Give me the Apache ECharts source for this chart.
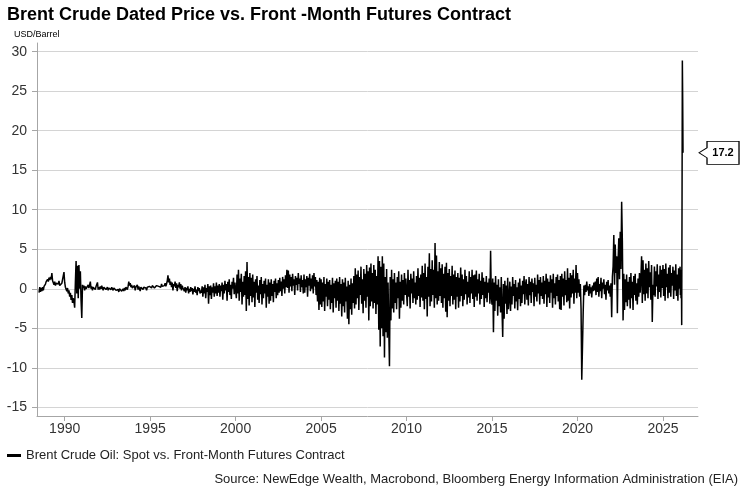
<!DOCTYPE html>
<html><head><meta charset="utf-8">
<script src="https://cdn.jsdelivr.net/npm/echarts@6/dist/echarts.min.js"></script>
<style>html,body{margin:0;padding:0;background:#fff}#c{width:747px;height:490px}</style>
</head><body><div id="c"></div>
<script>
const seriesName = 'Brent Crude Oil: Spot vs. Front-Month Futures Contract';
const titleText = 'Brent Crude Dated Price vs. Front -Month Futures Contract';
const unitText = 'USD/Barrel';
const sourceText = 'Source: NewEdge Wealth, Macrobond, Bloomberg Energy Information Administration (EIA)';

// Spot minus front-month futures, USD/barrel at half-month steps from mid-1988
const startYear = 1988.5, stepsPerYear = 24;
const spread1988_1994 = [
  -0.5, 0.2, -0.4, 0.1, -0.3, 0.2, -0.2, 0.3, 0.1, 0.6, 0.9, 0.7,
  1.2, 0.9, 1.4, 1.1, 1.5, 1.2, 2.0, 1.0, 0.8, 0.5, 0.9, 0.4, 0.7, 0.5, 0.8, 0.6, 1.0, 0.4, 0.6, 0.3, 0.7, 0.5, 0.9, 2.1,
  0.8, 0.2, 0.4, -0.3, 0.1, -0.6, -0.2, -1.0, -0.5, -1.4, -0.8, -1.8, -1.2, -1.6, -2.4, 0.8, 3.5, -0.6, 2.9, -1.2, 3.0, 0.0, 2.2, -1.5,
  -3.7, 0.5, 0.1, 0.4, -0.2, 0.3, 0.0, 0.2, -0.1, 0.5, 0.1, 0.3, 0.9, 0.0, 0.3, -0.2, 0.2, 0.0, 0.4, -0.1, 0.3, 0.1, 0.8, -0.1,
  0.2, -0.1, 0.3, 0.0, 0.4, 0.1, -0.2, 0.2, 0.0, 0.3, -0.1, 0.1, 0.2, -0.2, 0.1, 0.0, 0.3, -0.1, 0.2, 0.0, -0.2, 0.1, -0.1, 0.2,
  -0.2, 0.0, -0.3, -0.1, -0.4, 0.0, -0.2, 0.1, -0.3, -0.1, 0.0, -0.3, 0.1, -0.2, 0.2, 0.0, -0.1, 0.3, 0.9, 0.4, 0.7, 0.2, 0.5, 0.1,
  0.3, 0.0, 0.4, -0.2, 0.2, 0.1, 0.5, -0.1, 0.3, 0.0, -0.3, 0.2, 0.1, 0.4, -0.1, 0.2, 0.0, 0.3, 0.1, -0.2, 0.2, 0.4, 0.0, 0.3
];
const spread1995_1999 = [
  0.2, 0.5, 0.1, 0.4, 0.2, 0.6, 0.1, 0.3, 0.0, 0.4, 0.2, 0.5, 0.3, 0.1, 0.4, 0.2, 0.6, 0.3, 0.5, 0.2, 0.4, 0.7, 0.3, 0.6,
  1.0, 1.7, 0.8, 1.3, 0.5, 0.9, 0.2, 0.8, -0.2, 0.6, 0.3, 0.9, 0.1, 0.7, -0.3, 0.5, 0.2, 0.8, 0.0, 0.6, -0.2, 0.4, 0.1, 0.3,
  -0.3, 0.2, -0.5, 0.1, -0.2, 0.3, -0.6, 0.0, -0.4, 0.2, -0.3, 0.1, -0.7, 0.0, -0.4, 0.3, -0.5, -0.1, -0.8, 0.2, -0.3, 0.1, -0.6, -0.2,
  -0.5, 0.3, -1.0, 0.2, -0.6, 0.5, -1.2, 0.1, -0.4, 0.6, -1.9, 0.3, -0.8, 0.4, -1.3, 0.2, -0.5, 0.7, -1.0, 0.3, -0.6, 0.8, -0.9, 0.4,
  -0.5, 0.6, -1.0, 0.4, -0.3, 0.8, -1.4, 0.5, -0.6, 1.0, -0.2, 0.6, -1.5, 0.9, -0.4, 1.2, -0.8, 0.5, -1.3, 0.9, 0.0, 1.4, -0.7, 0.8
];
const spread2000_2004 = [
  1.0, -1.2, 1.8, -0.6, 2.4, -1.5, 1.3, -0.4, 1.9, -2.0, 0.9, -1.0, 1.6, -0.8, 2.2, -2.8, 3.4, -1.3, 1.5, -2.1, 2.0, -0.9, 1.4, -1.7,
  1.8, -1.1, 0.9, -2.3, 1.2, -0.5, 1.6, -1.4, 0.4, -1.8, 1.1, -0.7, 1.5, -2.0, 0.6, -1.2, 1.0, -0.6, 1.3, -2.4, 0.5, -1.0, 1.2, -1.9,
  0.8, -1.5, 1.2, -0.9, 0.6, -1.7, 1.0, -0.4, 1.3, -1.2, 0.7, -0.8, 1.1, -0.5, 1.4, -0.3, 0.9, -0.9, 1.5, 0.0, 1.2, -0.6, 1.7, 0.2,
  2.4, 0.1, 2.3, -0.5, 1.8, 0.3, 1.5, -0.3, 1.9, 0.4, 1.2, -0.8, 1.6, 0.5, 1.4, -0.2, 2.0, 0.6, 1.3, -0.4, 1.7, 0.2, 1.1, -0.6,
  1.8, -0.5, 1.2, 0.2, 1.6, -1.0, 1.4, 0.4, 1.9, -0.3, 1.3, 0.0, 1.7, -0.6, 2.0, 0.3, 1.5, -0.8, 1.1, -1.6, 0.9, -2.7, 1.4, -2.0
];
const spread2005_2009 = [
  1.2, -2.3, 0.8, -1.6, 1.5, -2.8, 0.6, -1.0, 1.3, -2.2, 0.9, -1.4, 1.1, -2.6, 0.5, -1.8, 1.4, -3.0, 0.7, -1.2, 1.0, -2.4, 1.3, -1.5,
  0.9, -2.8, 1.5, -1.9, 0.6, -3.5, 1.2, -2.2, 0.8, -3.0, 1.4, -1.6, 0.3, -3.8, 1.0, -4.5, 0.5, -2.6, 1.3, -3.3, 0.7, -1.8, 1.6, -2.5,
  2.6, -2.0, 1.8, -1.2, 2.3, -2.7, 1.5, -0.8, 2.8, -1.9, 1.2, -3.1, 2.5, -1.5, 1.9, -2.4, 3.0, -1.0, 2.2, -4.0, 2.7, -2.2, 3.2, -1.6,
  2.0, -2.5, 3.0, -1.8, 2.4, -3.2, 1.6, -2.0, 4.1, -5.2, 3.5, -7.3, 2.8, -5.0, 4.1, -6.0, 3.2, -8.7, 1.5, -5.5, 2.5, -6.2, 0.8, -5.0,
  -9.8, 1.5, -4.0, 2.4, -2.5, 1.2, -3.0, 2.0, -1.8, 0.8, -2.6, 1.5, -1.2, 2.2, -3.8, 0.9, -2.4, 1.8, -1.5, 1.1, -2.0, 2.0, -0.8, 1.3
];
const spread2010_2014 = [
  1.5, -2.2, 2.4, -1.0, 1.1, -2.5, 1.9, -0.6, 1.3, -1.8, 2.2, -1.2, 0.8, -2.0, 1.6, -1.4, 2.6, -0.9, 1.4, -2.3, 1.8, -1.1, 2.9, -1.5,
  2.0, -2.6, 3.2, -1.3, 1.5, -3.5, 2.8, -1.0, 4.5, -2.2, 2.5, -1.6, 3.6, -0.8, 2.4, -2.4, 5.8, -1.2, 4.2, -2.0, 2.2, -1.5, 3.4, -0.9,
  2.6, -1.8, 3.1, -2.4, 1.9, -1.2, 2.8, -2.9, 3.3, -3.6, 2.0, -1.5, 2.5, -2.2, 1.6, -0.9, 2.9, -2.0, 1.8, -1.4, 2.3, -2.6, 1.5, -1.0,
  2.0, -2.4, 1.4, -1.6, 2.7, -0.9, 1.8, -2.2, 1.2, -1.4, 2.4, -0.7, 1.6, -2.0, 0.9, -1.1, 2.2, -1.8, 1.5, -0.6, 2.4, -1.3, 1.7, -2.3,
  1.8, -1.0, 2.3, -1.5, 1.2, -0.6, 1.9, -2.0, 1.0, -1.3, 2.1, -0.8, 1.4, -2.3, 0.9, -1.2, 1.6, -1.7, 0.8, -0.5, 1.3, -1.9, 4.8, -1.0
];
const spread2015_2019 = [
  -2.0, 1.3, -5.5, 0.8, -2.8, 1.6, -1.5, 0.5, -3.4, 1.2, -2.2, 0.2, -3.0, 1.5, -2.5, -6.1, 0.6, -3.8, 1.0, -1.9, 0.4, -3.2, 1.4, -2.6,
  -1.2, 0.9, -2.8, 0.3, -2.0, 1.5, -0.9, 0.6, -2.5, 1.1, -1.6, 0.2, -2.7, 0.8, -1.3, 1.3, -2.2, 0.4, -1.8, 1.0, -0.7, 1.6, -2.0, 0.5,
  1.2, -1.4, 0.6, -2.1, 1.5, -0.8, 0.9, -1.8, 1.3, -0.4, 0.7, -2.2, 1.4, -1.0, 0.5, -1.6, 1.8, -0.6, 1.1, -2.0, 1.5, -0.9, 0.8, -1.3,
  1.6, -1.9, 1.0, -0.7, 1.9, -2.3, 1.3, -1.1, 0.9, -1.8, 1.7, -0.5, 1.2, -2.4, 1.9, -1.2, 0.7, -2.0, 1.5, -0.9, 1.8, -1.6, 1.1, -2.6,
  1.6, -2.7, 1.9, -1.0, 1.3, -2.1, 2.2, -0.8, 1.1, -1.7, 2.6, -1.5, 1.4, -2.5, 2.0, -1.1, 1.7, -0.6, 2.4, -1.9, 1.3, -0.5, 3.0, -1.2
];
const spread2020_2025 = [
  2.0, -0.5, 1.2, -1.0, 0.6, -2.5, -11.5, -7.4, -3.0, 0.4, -0.8, 0.5, -0.4, 0.9, -0.2, 0.3, -0.9, 0.6, -0.6, 0.2, -1.1, 0.4, -0.3, 0.8,
  -0.2, 0.9, -0.8, 1.3, -0.4, 1.5, -1.0, 0.6, -0.3, 1.4, -1.2, 0.8, 0.0, 1.2, -0.7, 0.5, -1.4, 0.9, -0.2, 1.1, -0.6, 0.4, -1.0, 0.7,
  -3.6, 1.5, 2.8, 6.8, 0.5, 5.6, 2.0, 4.1, -3.1, 3.5, 6.4, 1.2, 7.2, 2.5, 11.0, 6.0, -4.0, 1.9, -2.7, 1.2, -1.7, 1.8, -2.2, 0.9,
  -1.4, 1.5, -2.5, 2.0, -1.2, 0.9, -2.7, 1.6, -0.8, 1.9, -1.5, 0.7, -2.0, 1.3, -1.0, 2.0, -0.5, 1.2, 4.1, -1.8, 3.6, -0.7, 2.4, -1.5,
  3.2, -0.6, 2.6, -1.2, 3.5, 0.2, 2.1, -1.4, 3.0, -4.2, 0.5, -0.8, 2.8, -1.0, 2.2, 0.3, 3.1, -1.3, 1.8, -0.4, 2.9, -1.1, 2.4, 0.1,
  3.0, -0.9, 2.5, -1.5, 3.2, 0.2, 1.9, -1.2, 2.7, -0.5, 3.0, -1.0, 2.0, 0.4, 2.8, -1.3, 2.3, -0.2, 3.1, -0.9, 1.8, -1.5, 2.6, 0.0
];
// Early 2026, weekly steps
const tailStart = 2026, tailStepsPerYear = 52;
const spread2026 = [2.8, -0.8, 2.0, -1.2, 2.4, -4.6, 10.5, 28.9, 24.0, 17.2];

const yTicks = [-15, -10, -5, 0, 5, 10, 15, 20, 25, 30];
const xTicks = [1990, 1995, 2000, 2005, 2010, 2015, 2020, 2025];

const mainValues = [].concat(spread1988_1994, spread1995_1999, spread2000_2004, spread2005_2009,
  spread2010_2014, spread2015_2019, spread2020_2025);
const data = mainValues.map((v, i) => [startYear + i / stepsPerYear, v])
  .concat(spread2026.map((v, j) => [tailStart + j / tailStepsPerYear, v]));
const lastPoint = data[data.length - 1];

const FONT = "'Liberation Sans', Arial, Helvetica, sans-serif";
const chart = echarts.init(document.getElementById('c'), null, { renderer: 'canvas' });
chart.setOption({
  animation: false,
  backgroundColor: '#fff',
  textStyle: { fontFamily: FONT },
  title: [
    { text: titleText, left: 2, top: 1, textStyle: { fontFamily: FONT, fontSize: 18, fontWeight: 'bold', color: '#000' } },
    { text: unitText, left: 9, top: 25, textStyle: { fontFamily: FONT, fontSize: 9, fontWeight: 'normal', color: '#000' } },
    { text: sourceText, right: 4, top: 468, textStyle: { fontFamily: FONT, fontSize: 13, fontWeight: 'normal', color: '#222' } }
  ],
  legend: {
    left: 2, top: 444, icon: 'rect', itemWidth: 14, itemHeight: 3,
    textStyle: { fontFamily: FONT, fontSize: 13, color: '#222' },
    data: [{ name: seriesName, itemStyle: { color: '#000' } }]
  },
  grid: { left: 37, right: 49, top: 43, bottom: 74, containLabel: false },
  xAxis: {
    type: 'value', min: 1988.38, max: 2027.05,
    axisLine: { show: true, onZero: false, lineStyle: { color: '#a6a6a6', width: 1 } },
    axisTick: { show: true, customValues: xTicks, length: 5, lineStyle: { color: '#a6a6a6' } },
    axisLabel: { customValues: xTicks, color: '#333', fontSize: 14, margin: 6, fontFamily: FONT,
      formatter: v => String(v) },
    splitLine: { show: false }
  },
  yAxis: {
    type: 'value', min: -16.1, max: 31.1,
    axisLine: { show: true, lineStyle: { color: '#a6a6a6', width: 1 } },
    axisTick: { show: true, customValues: yTicks, length: 5, lineStyle: { color: '#a6a6a6' } },
    axisLabel: { customValues: yTicks, color: '#333', fontSize: 14, margin: 10, fontFamily: FONT,
      formatter: v => String(v) },
    splitLine: { show: true, lineStyle: { color: '#d4d4d4', width: 1 } }
  },
  series: [{
    type: 'line', name: seriesName, data: data,
    symbol: 'none', showSymbol: false, silent: true,
    lineStyle: { color: '#000', width: 1.5 },
    itemStyle: { color: '#000' },
    markPoint: {
      silent: true,
      symbol: 'path://M0 11.5 L8 6.5 L8 0 L40 0 L40 23 L8 23 L8 16.5 Z',
      symbolSize: [40, 23], symbolOffset: [36, 0],
      itemStyle: { color: '#fff', borderColor: '#000', borderWidth: 1 },
      label: { show: true, color: '#000', fontWeight: 'bold', fontSize: 11, fontFamily: FONT, offset: [4, 0],
        formatter: p => p.value.toFixed(1) },
      data: [{ coord: lastPoint, value: lastPoint[1] }]
    }
  }]
});
</script></body></html>
